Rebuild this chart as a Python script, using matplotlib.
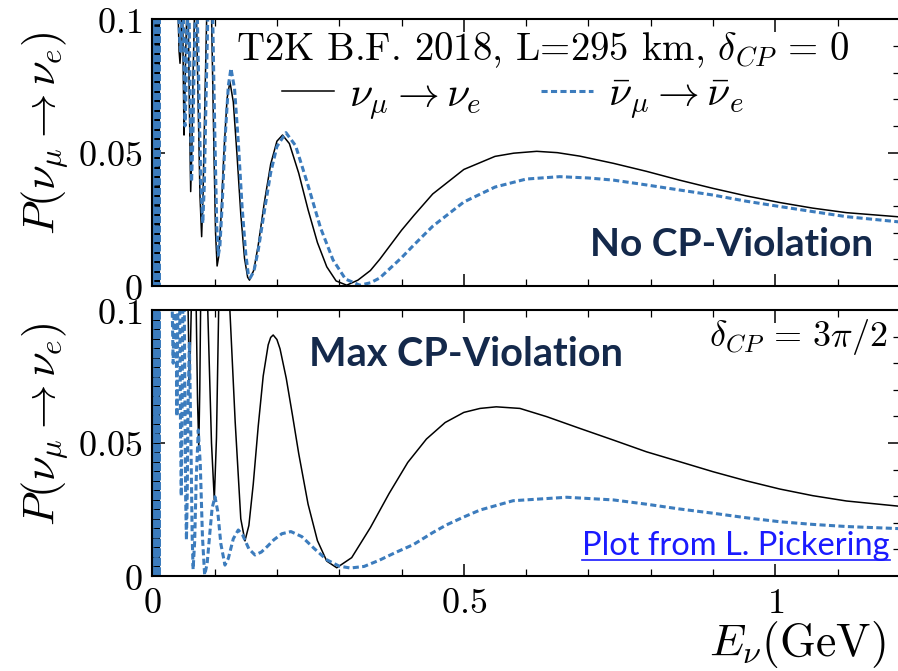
import matplotlib
matplotlib.use("Agg")
import matplotlib.pyplot as plt
from matplotlib.lines import Line2D
import numpy as np

# ---------------- data ----------------
# very fast oscillations near E -> 0 (shared by all curves)
low_E = [0.0008, 0.0012, 0.0016, 0.0020, 0.0024, 0.0028, 0.0032, 0.0036, 0.0040,
         0.0044, 0.0048, 0.0052, 0.0056, 0.0060, 0.0064, 0.0068, 0.0072, 0.0076,
         0.0080, 0.0084, 0.0088, 0.0092, 0.0096, 0.0100, 0.0104, 0.0108, 0.0112]
low_P = [0.0, 0.3, 0.0, 0.3, 0.0, 0.3, 0.0, 0.3, 0.0,
         0.3, 0.0, 0.3, 0.0, 0.3, 0.0, 0.3, 0.0, 0.3,
         0.0, 0.3, 0.0, 0.3, 0.0, 0.3, 0.0, 0.3, 0.0]

# top panel, delta_CP = 0, neutrino
top_nu_E = [0.0115, 0.020, 0.030, 0.038, 0.0405, 0.0417, 0.0430, 0.0445, 0.0457, 0.0468,
            0.0478, 0.0488, 0.0498, 0.0509, 0.0520, 0.0536, 0.0551, 0.0564, 0.0578, 0.0596,
            0.0616, 0.0636, 0.0655, 0.0675, 0.0692, 0.0710, 0.0738, 0.0765, 0.0792, 0.0815,
            0.0843, 0.0872, 0.0912, 0.0952, 0.0990, 0.1015, 0.1040, 0.1065, 0.1100, 0.1150,
            0.1200, 0.1246, 0.1300, 0.1360, 0.1420, 0.1480, 0.1530, 0.1560, 0.1630, 0.1700,
            0.1800, 0.1900, 0.2000, 0.2090, 0.2200, 0.2350, 0.2500, 0.2650, 0.2800, 0.2950,
            0.3120, 0.3300, 0.3500, 0.3650, 0.4000, 0.4200, 0.4500, 0.5000, 0.5500, 0.5800,
            0.6170, 0.6500, 0.6860, 0.7400, 0.7930, 0.8460, 0.9000, 0.9530, 1.0070, 1.0600,
            1.1140, 1.2000]
top_nu_P = [0.30, 0.45, 0.32, 0.15, 0.112, 0.100, 0.088, 0.0835, 0.089, 0.100,
            0.107, 0.100, 0.078, 0.0566, 0.066, 0.088, 0.100, 0.106, 0.100, 0.066,
            0.0354, 0.052, 0.080, 0.100, 0.110, 0.100, 0.066, 0.034, 0.0185, 0.035,
            0.068, 0.100, 0.122, 0.100, 0.050, 0.020, 0.0075, 0.0109, 0.0246, 0.0503,
            0.0703, 0.0766, 0.0690, 0.0490, 0.0270, 0.0104, 0.0033, 0.0022, 0.0060, 0.0153,
            0.0316, 0.0457, 0.0543, 0.0566, 0.0534, 0.0423, 0.0286, 0.0163, 0.0072, 0.0019,
            0.0003, 0.0022, 0.0058, 0.0100, 0.0209, 0.0265, 0.0345, 0.0437, 0.0486, 0.0498,
            0.0505, 0.0500, 0.0487, 0.0460, 0.0430, 0.0397, 0.0366, 0.0338, 0.0313, 0.0292,
            0.0275, 0.0259]

# top panel, delta_CP = 0, antineutrino
top_nub_E = [0.0115, 0.020, 0.030, 0.039, 0.0415, 0.0428, 0.0441, 0.0455, 0.0467, 0.0478,
             0.0489, 0.0500, 0.0512, 0.0525, 0.0537, 0.0552, 0.0565, 0.0578, 0.0592, 0.0610,
             0.0630, 0.0650, 0.0670, 0.0688, 0.0706, 0.0724, 0.0752, 0.0780, 0.0810, 0.0835,
             0.0862, 0.0890, 0.0930, 0.0970, 0.1005, 0.1035, 0.1060, 0.1085, 0.1120, 0.1170,
             0.1220, 0.1262, 0.1320, 0.1380, 0.1440, 0.1500, 0.1540, 0.1570, 0.1630, 0.1700,
             0.1800, 0.1900, 0.2000, 0.2145, 0.2300, 0.2500, 0.2700, 0.2900, 0.3100, 0.3330,
             0.3500, 0.3650, 0.4000, 0.4190, 0.4500, 0.5000, 0.5500, 0.6000, 0.6540, 0.7000,
             0.7400, 0.7930, 0.8460, 0.9000, 0.9530, 1.0070, 1.0600, 1.1140, 1.2000]
top_nub_P = [0.30, 0.45, 0.32, 0.15, 0.112, 0.100, 0.091, 0.088, 0.093, 0.100,
             0.108, 0.100, 0.080, 0.060, 0.069, 0.090, 0.100, 0.107, 0.100, 0.068,
             0.039, 0.054, 0.081, 0.100, 0.110, 0.100, 0.068, 0.038, 0.0235, 0.038,
             0.070, 0.100, 0.122, 0.100, 0.055, 0.022, 0.0116, 0.015, 0.030, 0.056,
             0.075, 0.0816, 0.074, 0.054, 0.030, 0.012, 0.0045, 0.0030, 0.0055, 0.0134,
             0.0283, 0.0425, 0.0523, 0.0575, 0.0526, 0.0377, 0.0218, 0.0098, 0.0026, 0.0003,
             0.0012, 0.0030, 0.0106, 0.0152, 0.0224, 0.0315, 0.0371, 0.0401, 0.0410, 0.0405,
             0.0397, 0.0379, 0.0360, 0.0341, 0.0318, 0.0298, 0.0279, 0.0260, 0.0240]

# bottom panel, delta_CP = 3pi/2, neutrino
bot_nu_E = [0.0115, 0.020, 0.030, 0.040, 0.050, 0.0555, 0.0575, 0.0594, 0.0610, 0.0625,
            0.0665, 0.0705, 0.0726, 0.0746, 0.0762, 0.0775, 0.0830, 0.0890, 0.0950, 0.0995,
            0.1030, 0.1065, 0.1150, 0.1245, 0.1330, 0.1420, 0.1487, 0.1550, 0.1620, 0.1700,
            0.1780, 0.1860, 0.1900, 0.1940, 0.2000, 0.2050, 0.2150, 0.2250, 0.2350, 0.2500,
            0.2650, 0.2800, 0.2960, 0.3200, 0.3500, 0.3800, 0.4100, 0.4400, 0.4700, 0.5000,
            0.5260, 0.5520, 0.5900, 0.6330, 0.6860, 0.7400, 0.7930, 0.8460, 0.9000, 0.9530,
            1.0070, 1.0600, 1.1140, 1.2000]
bot_nu_P = [0.30, 0.50, 0.40, 0.25, 0.16, 0.118, 0.100, 0.0728, 0.084, 0.100,
            0.135, 0.100, 0.066, 0.0483, 0.070, 0.100, 0.145, 0.100, 0.050, 0.0286,
            0.052, 0.100, 0.125, 0.100, 0.058, 0.0215, 0.0132, 0.019, 0.0345, 0.0563,
            0.0752, 0.0869, 0.0897, 0.0906, 0.0889, 0.0854, 0.0743, 0.0604, 0.0460, 0.0270,
            0.0133, 0.0056, 0.0031, 0.0069, 0.0182, 0.0310, 0.0427, 0.0515, 0.0577, 0.0615,
            0.0630, 0.0636, 0.0630, 0.0599, 0.0555, 0.0511, 0.0467, 0.0430, 0.0392, 0.0358,
            0.0327, 0.0302, 0.0282, 0.0262]

# bottom panel, delta_CP = 3pi/2, antineutrino
bot_nub_E = [0.0115, 0.020, 0.028, 0.031, 0.0320, 0.0335, 0.0350, 0.0365, 0.0380, 0.0395,
             0.0410, 0.0425, 0.0440, 0.0453, 0.0465, 0.0475, 0.0490, 0.0505, 0.0520, 0.0535,
             0.0548, 0.0560, 0.0575, 0.0595, 0.0620, 0.0640, 0.0655, 0.0680, 0.0705, 0.0738,
             0.0770, 0.0805, 0.0840, 0.0880, 0.0920, 0.0960, 0.1006, 0.1050, 0.1100, 0.1166,
             0.1220, 0.1300, 0.1380, 0.1450, 0.1550, 0.1648, 0.1750, 0.1850, 0.1950, 0.2080,
             0.2225, 0.2400, 0.2600, 0.2800, 0.3000, 0.3180, 0.3400, 0.3650, 0.3900, 0.4190,
             0.4500, 0.4720, 0.5000, 0.5260, 0.5790, 0.6650, 0.7400, 0.7930, 0.8460, 0.9000,
             0.9530, 1.0070, 1.0600, 1.1140, 1.2000]
bot_nub_P = [0.30, 0.45, 0.25, 0.15, 0.100, 0.080, 0.100, 0.140, 0.100, 0.060,
             0.100, 0.150, 0.100, 0.055, 0.030, 0.055, 0.100, 0.125, 0.080, 0.030,
             0.0135, 0.030, 0.065, 0.088, 0.050, 0.015, 0.0025, 0.013, 0.0366, 0.0549,
             0.042, 0.0147, 0.0004, 0.0046, 0.0153, 0.0255, 0.0298, 0.0243, 0.0121, 0.0041,
             0.0066, 0.0140, 0.0173, 0.0154, 0.0102, 0.0079, 0.0090, 0.0112, 0.0136, 0.0159,
             0.0167, 0.0148, 0.0103, 0.0061, 0.0037, 0.0030, 0.0036, 0.0060, 0.0088, 0.0118,
             0.0163, 0.0192, 0.0222, 0.0248, 0.0283, 0.0296, 0.0286, 0.0270, 0.0252, 0.0236,
             0.0219, 0.0204, 0.0194, 0.0186, 0.0178]

x_ticks = [0, 0.5, 1]
x_ticklabels = ['$0$', '$0.5$', '$1$']
y_ticks = [0, 0.05, 0.1]
y_ticklabels = ['$0$', '$0.05$', '$0.1$']

# ---------------- style ----------------
plt.rcParams['mathtext.fontset'] = 'cm'
plt.rcParams['font.family'] = ['DejaVu Sans']

W, H = 898, 671
fig = plt.figure(figsize=(W / 100, H / 100), dpi=100)

BLUE = '#3c7cbd'
NAVY = '#14294b'
LINK = '#1a1aff'


def px_axes(left, right, top, bottom):
    return fig.add_axes([left / W, 1 - bottom / H, (right - left) / W, (bottom - top) / H])


ax_top = px_axes(152.3, 900.0, 19.3, 286.0)
ax_bot = px_axes(152.3, 900.0, 310.0, 576.0)

panels = [
    (ax_top, top_nu_E, top_nu_P, top_nub_E, top_nub_P),
    (ax_bot, bot_nu_E, bot_nu_P, bot_nub_E, bot_nub_P),
]

for ax, e1, p1, e2, p2 in panels:
    ax.plot(low_E + e1, low_P + p1, color='black', lw=1.1, solid_joinstyle='round')
    ax.plot(low_E + e2, low_P + p2, color=BLUE, lw=2.2, dashes=(2.0, 1.1))
    ax.set_xlim(0, 1.2)
    ax.set_ylim(0, 0.1)
    ax.set_xticks(x_ticks)
    ax.set_yticks(y_ticks)
    ax.set_yticklabels(y_ticklabels)
    ax.set_xticks(np.arange(0, 1.21, 0.1), minor=True)
    ax.set_yticks(np.arange(0, 0.1001, 0.01), minor=True)
    ax.tick_params(which='both', direction='in', top=True, right=True)
    ax.tick_params(which='major', length=9, width=1.1, labelsize=26, pad=7)
    ax.tick_params(which='minor', length=5, width=0.9)
    for s in ax.spines.values():
        s.set_linewidth(1.5)

ax_top.set_xticklabels([])
ax_bot.set_xticklabels(x_ticklabels)

# y labels
for yc in (133, 424):
    fig.text(45 / W, 1 - yc / H, r'$P(\nu_\mu \rightarrow \nu_e)$', rotation=90,
             ha='center', va='center', fontsize=32)

# x label
fig.text(885 / W, 1 - 645 / H, r'$E_\nu(\mathrm{GeV})$', ha='right', va='center', fontsize=33)

# title inside top panel
fig.text(850 / W, 1 - 50 / H, r'T2K B.F. 2018, L=295 km, $\delta_{CP}\,=\,0$',
         family='cmr10', ha='right', va='center', fontsize=28)

# legend (inside top panel)
leg = ax_top.legend(
    handles=[Line2D([], [], color='black', lw=1.1),
             Line2D([], [], color=BLUE, lw=2.2, dashes=(2.0, 1.1))],
    labels=[r'$\nu_\mu \rightarrow \nu_e$', r'$\bar{\nu}_\mu \rightarrow \bar{\nu}_e$'],
    ncol=2, frameon=False, fontsize=30, handlelength=1.25, handletextpad=0.35,
    columnspacing=1.45, borderpad=0.0, borderaxespad=0.0,
    loc='center', bbox_to_anchor=((513 - 152.3) / (900 - 152.3), 1 - (97 - 19.3) / (286 - 19.3)))

# annotations
fig.text(873 / W, 1 - 245 / H, 'No CP-Violation', family='Lato', weight='bold',
         color=NAVY, ha='right', va='center', fontsize=28)
fig.text(309 / W, 1 - 354 / H, 'Max CP-Violation', family='Lato', weight='bold',
         color=NAVY, ha='left', va='center', fontsize=28.5)
fig.text(888 / W, 1 - 337 / H, r'$\delta_{CP}\,=\,3\pi/2$', ha='right', va='center', fontsize=26)
t = fig.text(890 / W, 1 - 546 / H, 'Plot from L. Pickering', family='Lato',
             color=LINK, ha='right', va='center', fontsize=23.5)

fig.canvas.draw()
bb = t.get_window_extent()
yline = bb.y0 + 1.5
fig.add_artist(Line2D([bb.x0 / W, bb.x1 / W], [yline / H, yline / H],
                      transform=fig.transFigure, color=LINK, lw=1.2))

fig.savefig('out.png', dpi=100)
